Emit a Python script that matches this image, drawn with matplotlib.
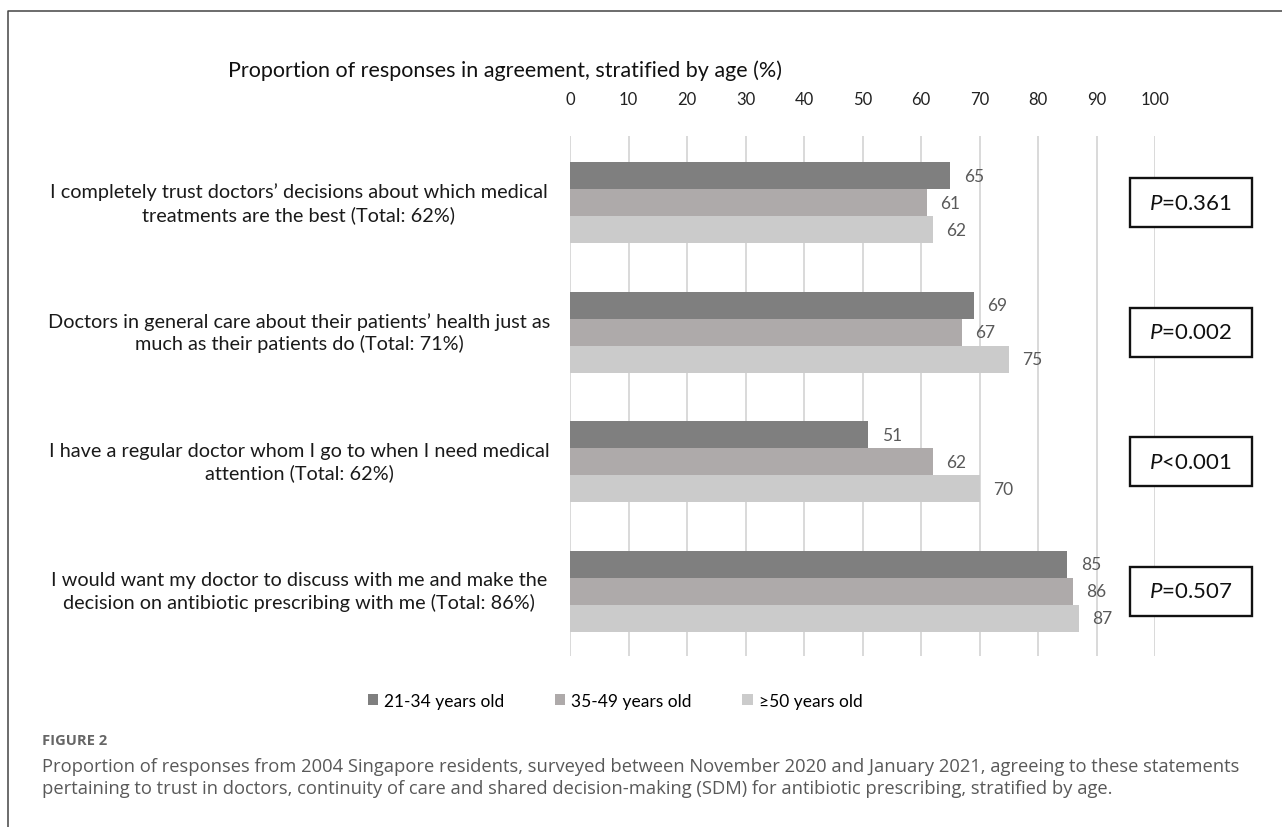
import numpy as np
import matplotlib
matplotlib.use('Agg')
import matplotlib.pyplot as plt
from matplotlib.lines import Line2D
from matplotlib.patches import Patch, Rectangle
from matplotlib.transforms import blended_transform_factory

# survey statements (y axis), one group of three bars each
statements = [
    'I completely trust doctors\u2019 decisions about which medical\ntreatments are the best (Total: 62%)',
    'Doctors in general care about their patients\u2019 health just as\nmuch as their patients do (Total: 71%)',
    'I have a regular doctor whom I go to when I need medical\nattention (Total: 62%)',
    'I would want my doctor to discuss with me and make the\ndecision on antibiotic prescribing with me (Total: 86%)',
]
age_groups = ['21-34 years old', '35-49 years old', '\u226550 years old']
age_21_34 = [65, 69, 51, 85]
age_35_49 = [61, 67, 62, 86]
age_50_up = [62, 75, 70, 87]
p_values = ['=0.361', '=0.002', '<0.001', '=0.507']
x_ticks = list(range(0, 101, 10))

colors = ['#7f7f7f', '#aeaaaa', '#cbcbcb']
chart_font = 'Lato'
caption_font = 'Open Sans'

plt.rcParams['font.family'] = chart_font
plt.rcParams['mathtext.fontset'] = 'custom'
plt.rcParams['mathtext.rm'] = chart_font
plt.rcParams['mathtext.it'] = chart_font + ':italic'

W, H = 1282, 828
fig = plt.figure(figsize=(W / 100, H / 100), dpi=100)
ax = fig.add_axes([570 / W, 1 - 657 / H, 585 / W, 520 / H])

y = np.arange(len(statements))
bar_h = 0.2085
series = [age_21_34, age_35_49, age_50_up]
for k, vals in enumerate(series):
    pos = y + (k - 1) * bar_h
    ax.barh(pos, vals, height=bar_h, color=colors[k], zorder=3)
    for yy, v in zip(pos, vals):
        ax.text(v + 2.3, yy, str(v), va='center', ha='left',
                fontsize=12.5, color='#595959')

ax.set_xlim(0, 100)
ax.set_ylim(3.5, -0.515)
ax.set_xticks(x_ticks)
ax.xaxis.tick_top()
ax.tick_params(axis='x', length=0, pad=21, labelsize=12, labelcolor='#222222')
ax.set_yticks([])
ax.grid(axis='x', color='#d9d9d9', lw=1.4, zorder=0)
for s in ax.spines.values():
    s.set_visible(False)

# statement labels, centred in the left margin
trans = blended_transform_factory(fig.transFigure, ax.transData)
for yy, lab in zip(y, statements):
    ax.text(299 / W, yy, lab, transform=trans, ha='center', va='center',
            fontsize=14.3, color='#1a1a1a', linespacing=1.3)

# p-value boxes to the right of the bars
box_w, box_h = 20.9, 0.378
for yy, p in zip(y, p_values):
    ax.add_patch(Rectangle((106.1 - box_w / 2, yy - box_h / 2), box_w, box_h,
                           fc='white', ec='#111111', lw=1.7, clip_on=False, zorder=5))
    ax.text(106.1, yy, r'$P$' + p, ha='center', va='center', fontsize=16,
            color='#111111', zorder=6)

fig.text(505 / W, 1 - 71 / H,
         'Proportion of responses in agreement, stratified by age (%)',
         ha='center', va='center', fontsize=15.5, color='#111111')

handles = [Patch(facecolor=c, edgecolor='none') for c in colors]
fig.legend(handles, age_groups, ncol=3, loc='center', frameon=False,
           bbox_to_anchor=(615 / W, 1 - 702 / H), fontsize=12.5,
           handlelength=0.6, handleheight=0.6, handletextpad=0.35,
           columnspacing=2.9)

# frame lines on the top and left
fig.add_artist(Line2D([8 / W, 8 / W, 1], [0, 1 - 12 / H, 1 - 12 / H],
                      transform=fig.transFigure, color='#444444', lw=1.1))

fig.text(42 / W, 1 - 741 / H, 'FIGURE 2', fontsize=10.6, fontweight='bold',
         color='#666666', va='center', family=caption_font)
fig.text(42 / W, 1 - 778 / H,
         'Proportion of responses from 2004 Singapore residents, surveyed between November 2020 and January 2021, agreeing to these statements\n'
         'pertaining to trust in doctors, continuity of care and shared decision-making (SDM) for antibiotic prescribing, stratified by age.',
         fontsize=13.2, color='#595959', va='center', linespacing=1.3,
         family=caption_font)

fig.savefig('out.png', dpi=100)
